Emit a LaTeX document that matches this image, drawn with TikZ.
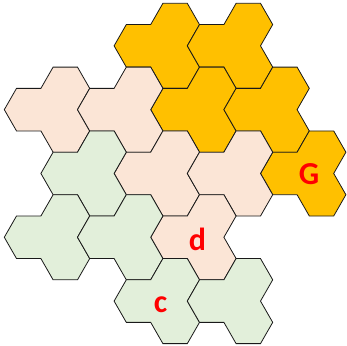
\documentclass[tikz,border=0pt]{standalone}
\usepackage{fontspec}
\setmainfont{Carlito}
\definecolor{gold}{HTML}{FFC000}
\definecolor{peach}{HTML}{FBE5D6}
\definecolor{mint}{HTML}{E2EFDA}
\definecolor{lblred}{HTML}{FF0000}
\tikzset{
  hexline/.style={draw=black!90, line width=0.8pt, line join=miter},
  lbl/.style={text=lblred, font=\bfseries\fontsize{32}{32}\selectfont, inner sep=0pt, anchor=center}
}
% trihex: one hex at (i,k) on the left, two stacked hexes to its right
\newcommand{\trihex}[3]{%
  \draw[hexline, fill=#3, shift={({28.7+36.6*(#1)},{109.65+21.27*(#2)})}]
    (-24.4,0) -- (-12.2,-21.27) -- (12.2,-21.27) -- (24.4,-42.54) -- (48.8,-42.54)
    -- (61,-21.27) -- (48.8,0) -- (61,21.27) -- (48.8,42.54) -- (24.4,42.54)
    -- (12.2,21.27) -- (-12.2,21.27) -- cycle;}
\begin{document}
\begin{tikzpicture}[x=1pt, y=-1pt]
\useasboundingbox (0,0) rectangle (347,345);
% yellow
\trihex{3}{-3}{gold}
\trihex{5}{-3}{gold}
\trihex{4}{0}{gold}
\trihex{6}{0}{gold}
\trihex{7}{3}{gold}
% pink
\trihex{0}{0}{peach}
\trihex{2}{0}{peach}
\trihex{3}{3}{peach}
\trihex{5}{3}{peach}
\trihex{4}{6}{peach}
% green
\trihex{1}{3}{mint}
\trihex{0}{6}{mint}
\trihex{2}{6}{mint}
\trihex{3}{9}{mint}
\trihex{5}{9}{mint}
% labels
\node[lbl] (G) at (309,174.5) {G};
\node[lbl] (d) at (197.5,239.5) {d};
\node[lbl] (c) at (160.5,304.5) {c};
\end{tikzpicture}
\end{document}
